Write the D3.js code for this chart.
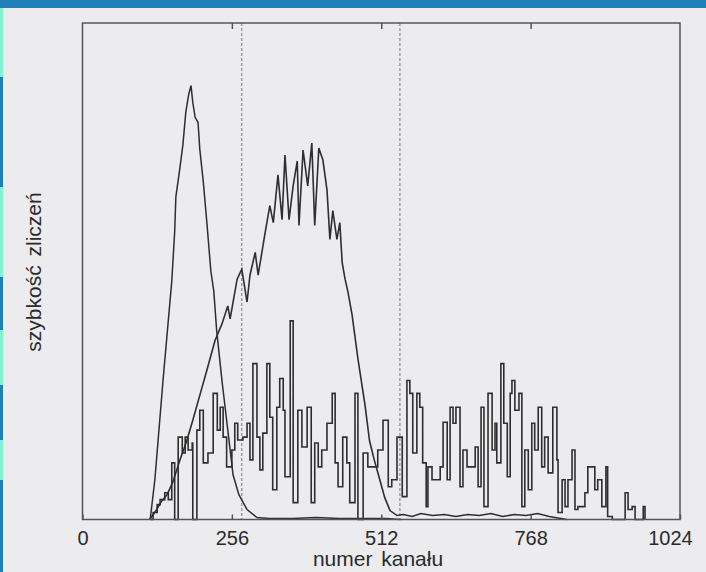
<!DOCTYPE html>
<html>
<head>
<meta charset="utf-8">
<script src="https://cdn.jsdelivr.net/npm/d3@7"></script>
<style>
  html, body { margin: 0; padding: 0; background: #ececee; }
  svg { display: block; }
</style>
</head>
<body>
<svg id="chart"></svg>
<script>
// Axis ticks and labels
const xTicks = [0, 256, 512, 768, 1024];
const xLabel = "numer kanału";
const yLabel = "szybkość zliczeń";
const markerChannels = [273, 544]; // dashed window lines

// Narrow smooth peak (channel, counts)
const narrowChannels = [116, 124, 138, 153, 158, 160, 166, 172, 177, 182, 186, 189, 193, 198, 201, 207, 213, 220, 225, 230, 239, 249, 258, 268, 282, 299, 320, 360, 400, 440, 480, 520, 545];
const narrowCounts   = [0, 40, 140, 240, 290, 325, 350, 377, 410, 428, 437, 420, 405, 400, 373, 340, 300, 250, 230, 190, 140, 90, 45, 25, 10, 2, 1, 1, 2, 1, 1, 1, 0];

// Broad noisy peak
const broadChannels = [115, 125, 135, 145, 155, 167, 178, 189, 201, 213, 227, 239, 249, 253, 265, 273, 282, 287, 296, 301, 313, 321, 327, 335, 342, 347, 354, 361, 368, 371, 378, 386, 393, 398, 405, 412, 419, 424, 429, 436, 441, 445, 450, 455, 462, 472, 484, 492, 500, 510, 518, 527, 539, 550, 565, 580, 600, 620, 640, 660, 680, 700, 720, 740, 760, 780, 800, 820, 830];
const broadCounts   = [0, 8, 18, 25, 38, 60, 78, 100, 125, 150, 180, 197, 215, 202, 242, 252, 219, 246, 269, 246, 289, 316, 299, 347, 302, 367, 302, 336, 361, 296, 372, 336, 379, 296, 374, 362, 332, 282, 311, 282, 299, 259, 242, 229, 206, 162, 116, 79, 60, 39, 22, 9, 4, 5, 3, 6, 4, 5, 3, 5, 4, 6, 3, 5, 4, 6, 3, 1, 0];

// Low, wide noisy spectrum (histogram steps)
const noiseChannels = [116, 121, 128, 133, 141, 147, 153, 158, 164, 171, 176, 181, 188, 189, 196, 201, 207, 215, 224, 231, 236, 241, 247, 256, 261, 266, 275, 282, 287, 292, 299, 304, 309, 316, 321, 326, 333, 338, 344, 347, 356, 361, 369, 376, 385, 392, 398, 404, 410, 419, 428, 433, 438, 446, 453, 458, 467, 472, 481, 489, 498, 506, 515, 524, 530, 539, 548, 556, 561, 566, 573, 578, 583, 589, 592, 599, 608, 613, 618, 625, 630, 635, 640, 647, 652, 659, 664, 673, 678, 683, 688, 695, 702, 707, 710, 717, 722, 728, 733, 736, 741, 748, 753, 758, 764, 770, 775, 781, 787, 792, 798, 806, 813, 815, 822, 827, 832, 839, 844, 849, 856, 861, 866, 873, 878, 883, 890, 897, 900, 908, 930, 935, 942, 947, 961, 964];
const noiseCounts   = [0, 7, 15, 20, 27, 20, 57, 0, 83, 67, 83, 70, 77, 0, 90, 110, 57, 67, 127, 90, 113, 83, 53, 70, 97, 80, 83, 97, 60, 157, 83, 50, 87, 157, 103, 30, 113, 142, 110, 43, 200, 17, 110, 73, 113, 17, 77, 53, 70, 97, 127, 57, 33, 83, 57, 17, 127, 0, 67, 53, 53, 70, 100, 33, 40, 83, 23, 140, 127, 67, 127, 113, 57, 13, 53, 40, 40, 53, 98, 40, 113, 97, 113, 33, 70, 53, 53, 73, 33, 113, 13, 127, 70, 97, 57, 157, 97, 43, 127, 140, 110, 127, 13, 70, 30, 97, 70, 113, 53, 83, 47, 113, 60, 7, 40, 13, 40, 70, 10, 13, 13, 27, 53, 53, 30, 40, 13, 53, 3, 0, 27, 10, 13, 0, 13, 0];

const width = 706, height = 572;
const plot = { left: 82.5, right: 680, top: 23, bottom: 519.5 };

const svg = d3.select("#chart")
    .attr("width", width)
    .attr("height", height);

// page background + slide border strips
svg.append("rect").attr("width", width).attr("height", height).attr("fill", "#ececee");
svg.append("rect").attr("width", width).attr("height", 8).attr("fill", "#1f7fb7");
const stripes = [[8, 77, "#7ff5cf"], [77, 187, "#1f7fb7"], [187, 277, "#7ff5cf"], [277, 330, "#1f7fb7"], [330, 385, "#7ff5cf"], [385, 440, "#1f7fb7"], [440, 480, "#7ff5cf"], [480, 572, "#1f7fb7"]];
svg.selectAll("rect.stripe")
    .data(stripes)
    .enter()
    .append("rect")
    .attr("class", "stripe")
    .attr("x", 0)
    .attr("y", d => d[0])
    .attr("width", 3)
    .attr("height", d => d[1] - d[0])
    .attr("fill", d => d[2]);

const x = d3.scaleLinear().domain([0, 1024]).range([plot.left, plot.right]);
const y = d3.scaleLinear().domain([0, 500]).range([plot.bottom, plot.top]);

const ink = "#2e2e2e";
const font = "'Liberation Sans', Arial, sans-serif";

// dashed window markers
svg.selectAll("line.marker")
    .data(markerChannels)
    .enter()
    .append("line")
    .attr("class", "marker")
    .attr("x1", d => x(d)).attr("x2", d => x(d))
    .attr("y1", plot.top).attr("y2", plot.bottom)
    .attr("stroke", "#777")
    .attr("stroke-width", 1)
    .attr("stroke-dasharray", "3,2");

function zip(cs, vs) {
    return cs.map((c, i) => [c, vs[i]]);
}

const line = d3.line().x(d => x(d[0])).y(d => y(d[1]));

svg.append("path")
    .datum(zip(noiseChannels, noiseCounts))
    .attr("fill", "none")
    .attr("stroke", ink)
    .attr("stroke-width", 1.6)
    .attr("d", line.curve(d3.curveStepAfter));

svg.append("path")
    .datum(zip(broadChannels, broadCounts))
    .attr("fill", "none")
    .attr("stroke", ink)
    .attr("stroke-width", 1.6)
    .attr("d", line.curve(d3.curveLinear));

svg.append("path")
    .datum(zip(narrowChannels, narrowCounts))
    .attr("fill", "none")
    .attr("stroke", ink)
    .attr("stroke-width", 1.5)
    .attr("d", line.curve(d3.curveLinear));

// frame
svg.append("rect")
    .attr("x", plot.left).attr("y", plot.top)
    .attr("width", plot.right - plot.left)
    .attr("height", plot.bottom - plot.top)
    .attr("fill", "none")
    .attr("stroke", "#555")
    .attr("stroke-width", 1.5);

// bottom axis: inward ticks, labels below
const bottomAxis = svg.append("g")
    .attr("transform", `translate(0,${plot.bottom})`)
    .call(d3.axisBottom(x).tickValues(xTicks).tickFormat(d3.format("d"))
        .tickSizeInner(-5).tickSizeOuter(0).tickPadding(11));
bottomAxis.select(".domain").remove();
bottomAxis.selectAll("line").attr("stroke", "#555").attr("stroke-width", 1.5);
bottomAxis.selectAll("text")
    .attr("fill", "#2a2a2a")
    .style("font-family", font)
    .style("font-size", "20px");
bottomAxis.selectAll(".tick").filter(d => d === 1024).select("text").attr("dx", -10);

// top axis: inward ticks only
const topAxis = svg.append("g")
    .attr("transform", `translate(0,${plot.top})`)
    .call(d3.axisTop(x).tickValues(xTicks.slice(1, -1)).tickSizeInner(-6).tickSizeOuter(0).tickFormat(""));
topAxis.select(".domain").remove();
topAxis.selectAll("line").attr("stroke", "#555").attr("stroke-width", 1.5);

// axis titles
svg.append("text")
    .attr("x", 378)
    .attr("y", 566)
    .attr("text-anchor", "middle")
    .attr("fill", "#2a2a2a")
    .style("font-family", font)
    .style("font-size", "21px")
    .style("word-spacing", "3px")
    .text(xLabel);

svg.append("text")
    .attr("transform", "translate(41,272) rotate(-90)")
    .attr("text-anchor", "middle")
    .attr("fill", "#2a2a2a")
    .style("font-family", font)
    .style("font-size", "21px")
    .style("word-spacing", "3px")
    .text(yLabel);
</script>
</body>
</html>
